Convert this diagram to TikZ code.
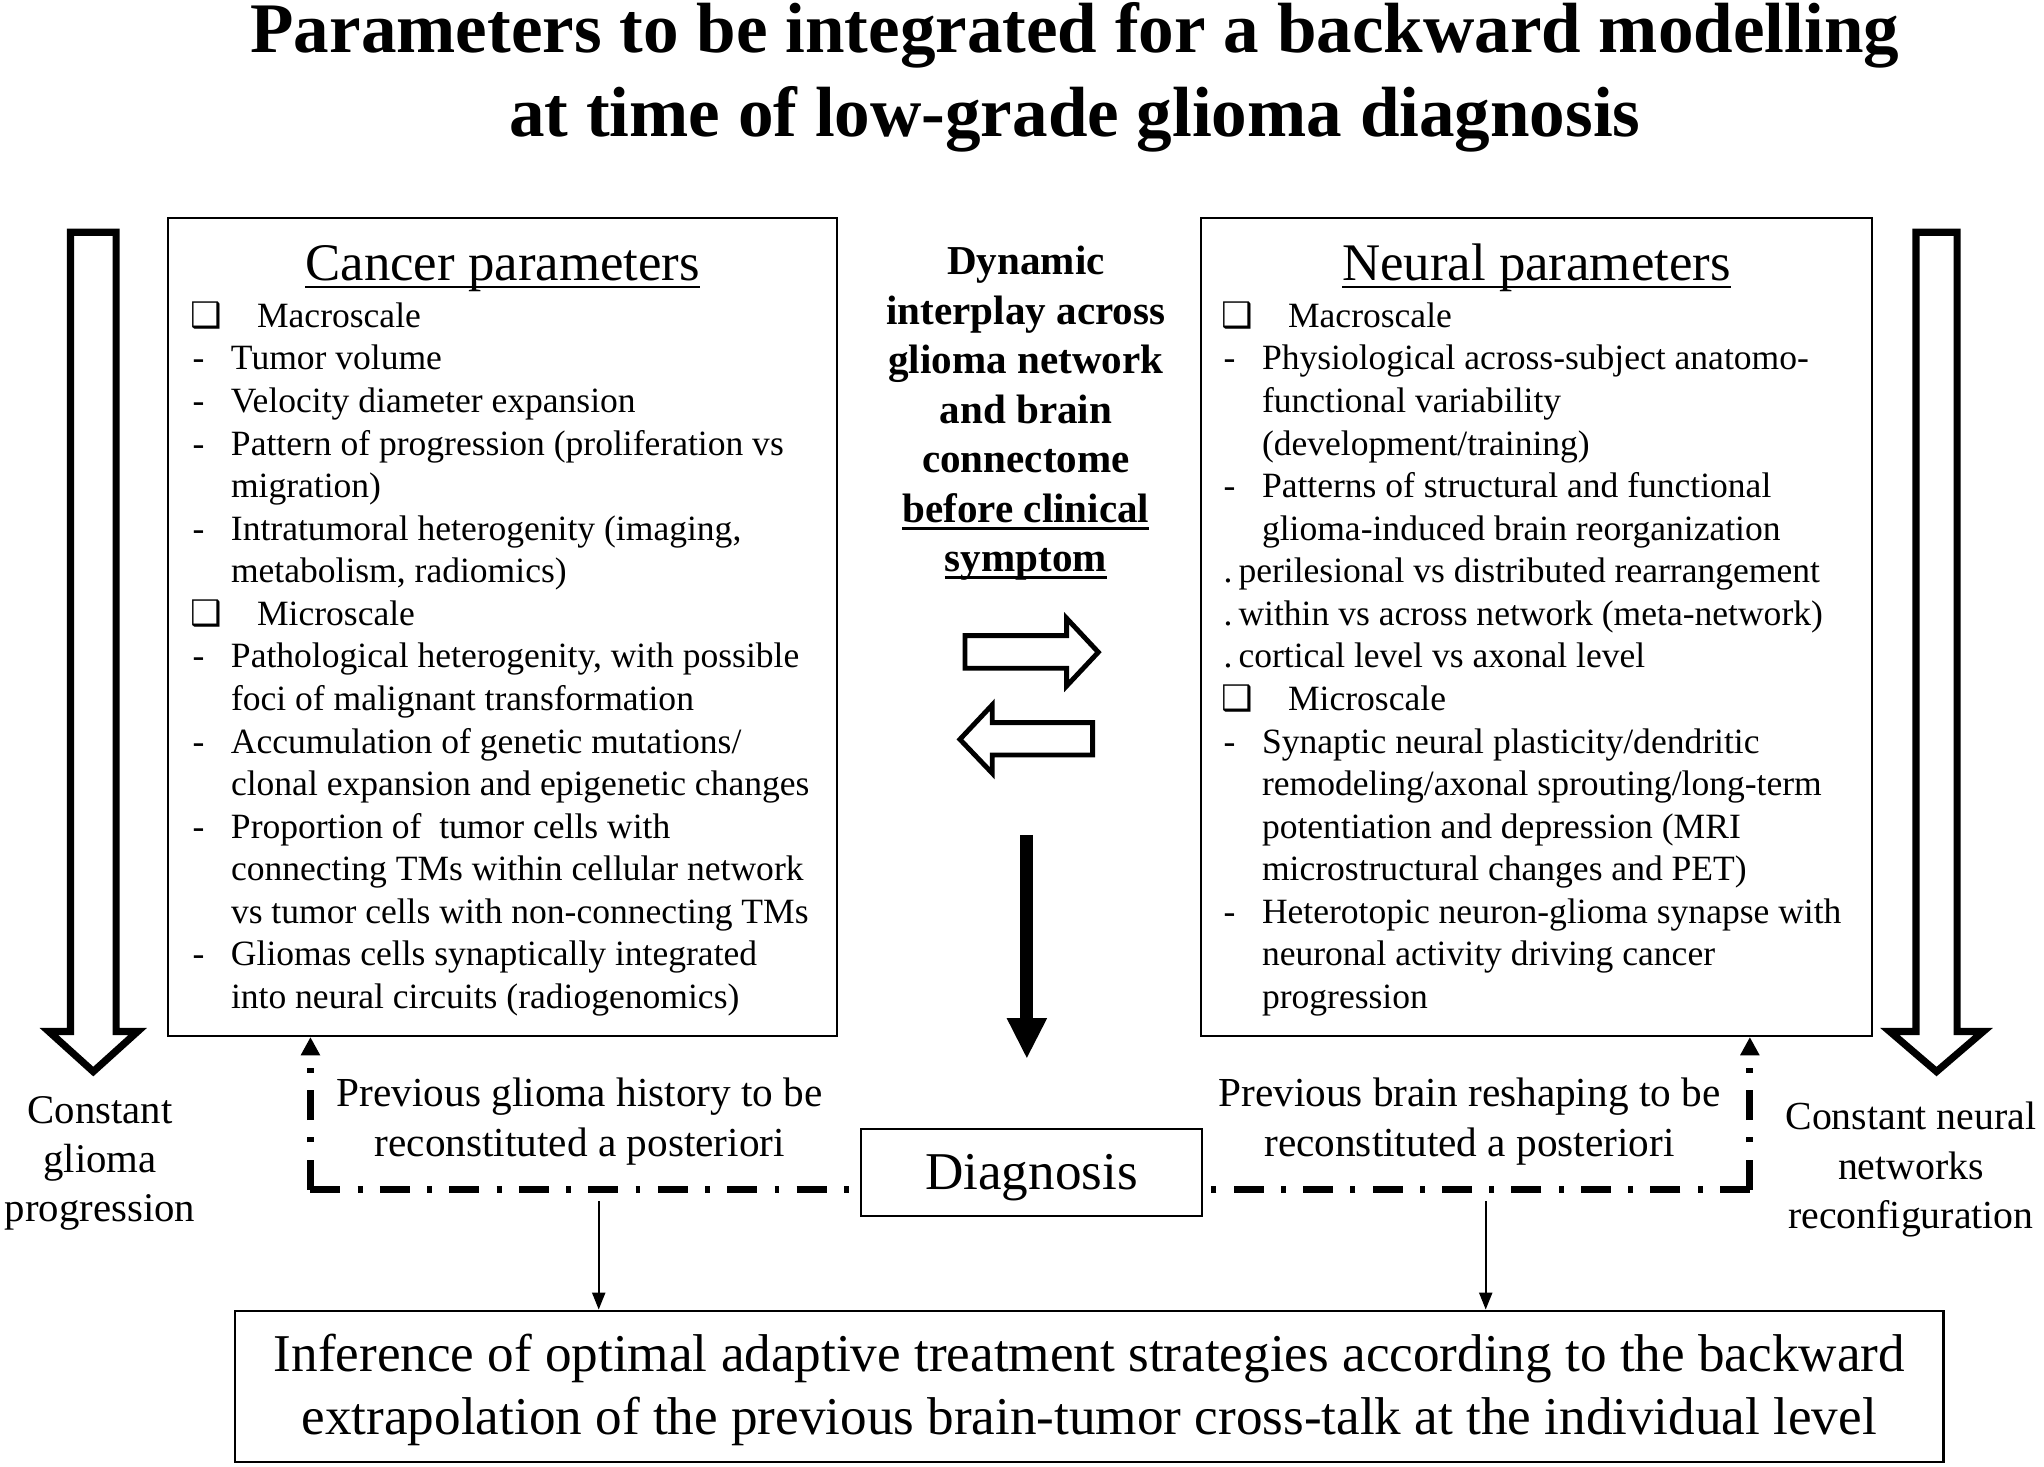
\documentclass[tikz,border=0pt]{standalone}
\usepackage{fontspec}
\setmainfont{Liberation Serif}
\newfontfamily\symfont{DejaVu Sans}
\usetikzlibrary{arrows.meta}

\newsavebox\myulbox
\newcommand\ulx[3]{\sbox\myulbox{#3}\rlap{\rule[#1]{\wd\myulbox}{#2}}\usebox\myulbox}
\newcommand\lnDash[1]{\llap{\makebox[11.8pt][l]{-}}#1}
\newcommand\lnBox[1]{\llap{\makebox[12.3pt][l]{\symfont\bfseries\fontsize{10.8}{10.8}\selectfont ❑}}\hspace*{8pt}#1}
\newcommand\lnDot[1]{\llap{\makebox[11.8pt][l]{.}}\hspace*{-7.2pt}#1}

\begin{document}
\begin{tikzpicture}[x=0.4pt,y=-0.4pt,
  ln/.style={anchor=base west, inner sep=0pt, font=\fontsize{10.9}{13}\selectfont},
  ttl/.style={anchor=base, inner sep=0pt, font=\fontsize{21.8}{26}\selectfont\bfseries},
  btitle/.style={anchor=base, inner sep=0pt, font=\fontsize{16.2}{19}\selectfont},
  ctr/.style={anchor=base, inner sep=0pt, font=\fontsize{12.6}{15}\selectfont\bfseries},
  side/.style={anchor=base, inner sep=0pt, font=\fontsize{12.5}{15}\selectfont},
  prev/.style={anchor=base, inner sep=0pt, font=\fontsize{12.65}{15}\selectfont},
  big/.style={anchor=base, inner sep=0pt, font=\fontsize{16.3}{19}\selectfont},
  boxx/.style={draw, line width=0.7pt, inner sep=0pt},
  hollow/.style={draw, line width=2.2pt, line join=miter, fill=white},
  hollowsm/.style={draw, line width=1.5pt, line join=miter, fill=white},
  dd/.style={line width=2.2pt, dash pattern=on 9.2pt off 5.3pt on 1.5pt off 5.3pt},
  ddtip/.style={-{Triangle[length=5.6pt,width=5.6pt]}},
  thinarr/.style={line width=0.6pt, -{Triangle[length=5.2pt,width=4pt]}}
]
\useasboundingbox (0,0) rectangle (1567,1124.6);

% title
\node[ttl] (t1) at (824,40) {Parameters to be integrated for a backward modelling};
\node[ttl] (t2) at (824,105) {at time of low-grade glioma diagnosis};

% boxes
\node[boxx, minimum width=205.2pt, minimum height=250.8pt] (cancer) at (385.3,480.65) {};
\node[boxx, minimum width=205.7pt, minimum height=250.8pt] (neural) at (1177.85,480.65) {};
\node[boxx, minimum width=104.6pt, minimum height=26.6pt, text height=10.6pt, text depth=0pt,
      font=\fontsize{16.3}{19}\selectfont] (diag) at (790.7,898.75) {Diagnosis};
\node[boxx, minimum width=524pt, minimum height=46.3pt] (bottom) at (835,1062.7) {};

% box titles
\node[btitle] (ctitle) at (385.3,214.7) {\ulx{-2.5pt}{0.8pt}{Cancer parameters}};
\node[btitle] (ntitle) at (1177.85,214.7) {\ulx{-2.5pt}{0.8pt}{Neural parameters}};

% cancer lines
\foreach \t [count=\i from 0] in {
  {\lnBox{Macroscale}},
  {\lnDash{Tumor volume}},
  {\lnDash{Velocity diameter expansion}},
  {\lnDash{Pattern of progression (proliferation vs}},
  {migration)},
  {\lnDash{Intratumoral heterogenity (imaging,}},
  {metabolism, radiomics)},
  {\lnBox{Microscale}},
  {\lnDash{Pathological heterogenity, with possible}},
  {foci of malignant transformation},
  {\lnDash{Accumulation of genetic mutations/}},
  {clonal expansion and epigenetic changes},
  {\lnDash{Proportion of\ \ tumor cells with}},
  {connecting TMs within cellular network},
  {vs tumor cells with non-connecting TMs},
  {\lnDash{Gliomas cells synaptically integrated}},
  {into neural circuits (radiogenomics)}}
  {\node[ln] (cl\i) at (176.6,251+\i*32.63) {\t};}

% neural lines
\foreach \t [count=\i from 0] in {
  {\lnBox{Macroscale}},
  {\lnDash{Physiological across-subject anatomo-}},
  {functional variability},
  {(development/training)},
  {\lnDash{Patterns of structural and functional}},
  {glioma-induced brain reorganization},
  {\lnDot{perilesional vs distributed rearrangement}},
  {\lnDot{within vs across network (meta-network)}},
  {\lnDot{cortical level vs axonal level}},
  {\lnBox{Microscale}},
  {\lnDash{Synaptic neural plasticity/dendritic}},
  {remodeling/axonal sprouting/long-term},
  {potentiation and depression (MRI},
  {microstructural changes and PET)},
  {\lnDash{Heterotopic neuron-glioma synapse with}},
  {neuronal activity driving cancer},
  {progression}}
  {\node[ln] (nl\i) at (967,251+\i*32.63) {\t};}

% center text
\node[ctr] (c1) at (786.5,210.8) {Dynamic};
\node[ctr] (c2) at (786.5,248.7) {interplay across};
\node[ctr] (c3) at (786.5,286.6) {glioma network};
\node[ctr] (c4) at (786.5,324.5) {and brain};
\node[ctr] (c5) at (786.5,362.4) {connectome};
\node[ctr] (c6) at (786.5,400.3) {\ulx{-2.4pt}{1pt}{before clinical}};
\node[ctr] (c7) at (786.5,438.2) {\ulx{-2.4pt}{1pt}{symptom}};

% center hollow arrows
\draw[hollowsm] (739.8,487.3) -- (817.7,487.3) -- (817.7,474) -- (842,500) -- (817.7,525.9) -- (817.7,512.3) -- (739.8,512.3) -- cycle;
\draw[hollowsm] (837.6,554) -- (760.7,554) -- (760.7,540.4) -- (735.9,566.8) -- (760.7,592.8) -- (760.7,578.8) -- (837.6,578.8) -- cycle;

% thick down arrow
\coordinate (da1) at (787,640);
\coordinate (da2) at (787,782);
\draw[line width=4pt] (da1) -- (da2);
\fill (771.7,780.5) -- (802.8,780.5) -- (787.2,811) -- cycle;

% big hollow arrows
\draw[hollow] (54,178) -- (54,790.8) -- (37.5,790.8) -- (71.5,821.5) -- (105.5,790.8) -- (89,790.8) -- (89,178) -- cycle;
\draw[hollow] (1468.8,178) -- (1468.8,790.8) -- (1448.8,790.8) -- (1484.6,821.5) -- (1520.4,790.8) -- (1500.4,790.8) -- (1500.4,178) -- cycle;

% side texts
\node[side] (l1) at (76.7,861) {Constant};
\node[side] (l2) at (76.7,898.6) {glioma};
\node[side] (l3) at (76.7,936.7) {progression};
\node[side, font=\fontsize{12.2}{15}\selectfont] (r1) at (1465,866) {Constant neural};
\node[side, font=\fontsize{12.2}{15}\selectfont] (r2) at (1465,904.6) {networks};
\node[side, font=\fontsize{12.2}{15}\selectfont] (r3) at (1465,941.5) {reconfiguration};

% previous texts
\node[prev] (p1) at (444.5,848.6) {Previous glioma history to be};
\node[prev] (p2) at (444.5,886.7) {reconstituted a posteriori};
\node[prev] (q1) at (1126.5,848.6) {Previous brain reshaping to be};
\node[prev] (q2) at (1126.5,886.7) {reconstituted a posteriori};

% dash-dot connectors
\coordinate (lc) at (238,912);
\coordinate (rc) at (1341.5,912);
\draw[dd] (lc) -- (diag.west |- lc);
\draw[dd, ddtip] (lc) -- (lc |- cancer.south);
\draw[dd] (rc) -- (diag.east |- rc);
\draw[dd, ddtip] (rc) -- (rc |- neural.south);

% thin arrows to bottom box
\coordinate (ta1) at (459,921);
\coordinate (ta2) at (1139,921);
\draw[thinarr] (ta1) -- (ta1 |- bottom.north);
\draw[thinarr] (ta2) -- (ta2 |- bottom.north);

% bottom text
\node[big] (b1) at (835,1051.5) {Inference of optimal adaptive treatment strategies according to the backward};
\node[big] (b2) at (835,1100) {extrapolation of the previous brain-tumor cross-talk at the individual level};
\end{tikzpicture}
\end{document}
